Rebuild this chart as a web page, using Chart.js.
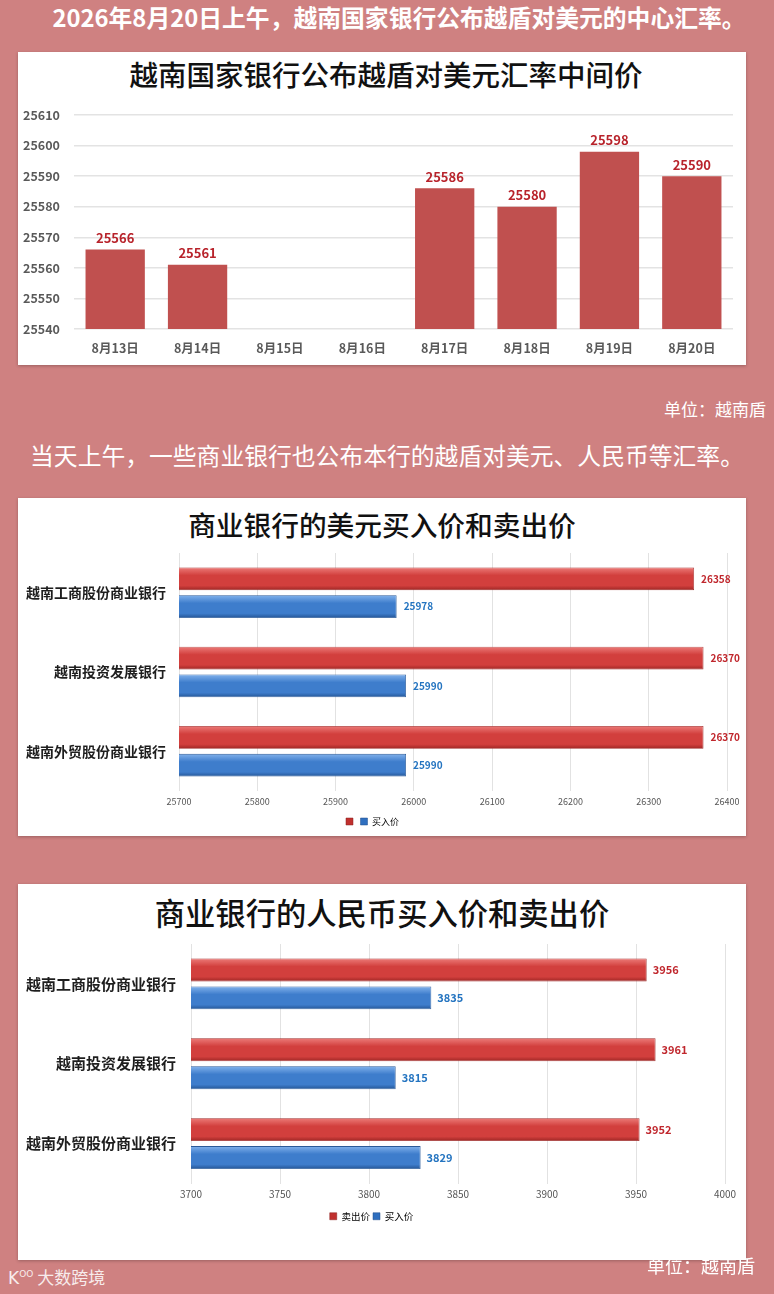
<!DOCTYPE html>
<html>
<head>
<meta charset="utf-8">
<script src="https://cdn.jsdelivr.net/npm/chart.js@4.4.1/dist/chart.umd.min.js"></script>
<style>
  html, body { margin:0; padding:0; }
  body { width:774px; height:1294px; background:#cf8181; position:relative; overflow:hidden;
         font-family:"Noto Sans CJK SC","Noto Sans",sans-serif; }
  .txt { position:absolute; color:#fff; white-space:nowrap; line-height:1; }
  .panel { position:absolute; left:18px; width:728px; background:#fff; box-shadow:0 1px 3px rgba(0,0,0,0.25); }
  .panel .title { position:absolute; left:0; width:100%; text-align:center; color:#111; font-weight:500; line-height:1; white-space:nowrap; transform:translateY(-50%); }
  .panel .cv { position:absolute; left:0; top:0; width:100%; height:100%; }
</style>
</head>
<body>
<div class="txt" style="left:0;width:774px;text-align:center;top:5px;font-size:23.8px;font-weight:700;padding-left:24px;box-sizing:border-box;">2026年8月20日上午，越南国家银行公布越盾对美元的中心汇率。</div>

<div class="panel" style="top:52px;height:313px;">
  <div class="title" style="top:22px;font-size:28.5px;padding-left:8px;box-sizing:border-box;">越南国家银行公布越盾对美元汇率中间价</div>
  <div class="cv"><canvas id="c1"></canvas></div>
</div>

<div class="txt" style="right:8px;top:400px;font-size:17px;">单位：越南盾</div>
<div class="txt" style="left:0;width:774px;text-align:center;top:443px;font-size:23.8px;">当天上午，一些商业银行也公布本行的越盾对美元、人民币等汇率。</div>

<div class="panel" style="top:498px;height:338px;">
  <div class="title" style="top:27px;font-size:27.7px;">商业银行的美元买入价和卖出价</div>
  <div class="cv"><canvas id="c2"></canvas></div>
</div>

<div class="panel" style="top:884px;height:376px;">
  <div class="title" style="top:28px;font-size:30.3px;">商业银行的人民币买入价和卖出价</div>
  <div class="cv"><canvas id="c3"></canvas></div>
</div>

<div class="txt" style="right:19px;top:1256px;font-size:18px;">单位：越南盾</div>
<div class="txt" style="left:8px;top:1268px;font-size:17px;opacity:0.85;"><span style="font-family:'DejaVu Sans';font-size:17px;">K</span><sup style="font-size:9px;font-family:'DejaVu Sans';">OO</sup> 大数跨境</div>

<script>
// ---------- data ----------
const dates = ['8月13日','8月14日','8月15日','8月16日','8月17日','8月18日','8月19日','8月20日'];
const centralRate = [25566, 25561, null, null, 25586, 25580, 25598, 25590];
const rateTicks = { min: 25540, max: 25610, step: 10 };

const banks = ['越南工商股份商业银行','越南投资发展银行','越南外贸股份商业银行'];
const usdSell = [26358, 26370, 26370];
const usdBuy  = [25978, 25990, 25990];
const usdTicks = { min: 25700, max: 26400, step: 100 };

const cnySell = [3956, 3961, 3952];
const cnyBuy  = [3835, 3815, 3829];
const cnyTicks = { min: 3700, max: 4000, step: 50 };

const usdLegend = ['', '买入价'];
const cnyLegend = ['卖出价', '买入价'];

// ---------- helpers ----------
const FONT = '"Noto Sans CJK SC","Noto Sans",sans-serif';
const plain = (v) => String(v);

const valueLabels = {
  id: 'valueLabels',
  afterDatasetsDraw(chart) {
    const ctx = chart.ctx;
    const horiz = chart.options.indexAxis === 'y';
    chart.data.datasets.forEach((ds, i) => {
      const meta = chart.getDatasetMeta(i);
      ctx.save();
      ctx.fillStyle = ds.labelColor;
      ctx.font = ds.labelFont;
      meta.data.forEach((el, j) => {
        const v = ds.data[j];
        if (v == null) return;
        if (horiz) {
          ctx.textAlign = 'left'; ctx.textBaseline = 'middle';
          ctx.fillText(String(v), el.x + ds.labelOffset, el.y);
        } else {
          ctx.textAlign = 'center'; ctx.textBaseline = 'bottom';
          ctx.fillText(String(v), el.x, el.y - ds.labelOffset);
        }
      });
      ctx.restore();
    });
  }
};

function barGradient(light, mid, dark, cp, bp, nSets) {
  return (c) => {
    const chart = c.chart;
    const ys = chart.scales && chart.scales.y;
    if (!ys || c.dataIndex === undefined || !isFinite(ys.height) || ys.height <= 0) return mid;
    const n = chart.data.labels.length;
    const cw = ys.height / n;
    const center = ys.getPixelForValue(c.dataIndex);
    const group = cw * cp, slot = group / nSets;
    const bc = center - group / 2 + slot * (c.datasetIndex + 0.5);
    const th = slot * bp;
    if (!isFinite(bc) || !isFinite(th)) return mid;
    const g = chart.ctx.createLinearGradient(0, bc - th / 2, 0, bc + th / 2);
    g.addColorStop(0, light);
    g.addColorStop(0.35, mid);
    g.addColorStop(0.8, mid);
    g.addColorStop(1, dark);
    return g;
  };
}

// ---------- chart 1 ----------
new Chart(document.getElementById('c1'), {
  type: 'bar',
  data: {
    labels: dates,
    datasets: [{
      data: centralRate,
      backgroundColor: '#c0504f',
      categoryPercentage: 1,
      barPercentage: 0.72,
      labelColor: '#b8232b',
      labelFont: 'bold 13px ' + FONT,
      labelOffset: 5
    }]
  },
  options: {
    responsive: true, maintainAspectRatio: false, animation: false,
    layout: { padding: { top: 63, right: 13, left: 0, bottom: 0 } },
    plugins: { legend: { display: false }, tooltip: { enabled: false } },
    scales: {
      x: {
        grid: { display: false, drawTicks: false },
        border: { display: false },
        ticks: { color: '#595959', font: { family: FONT, size: 12.5, weight: 'bold' }, padding: 12, maxRotation: 0 },
        afterFit(s) { s.height = 36; }
      },
      y: {
        min: rateTicks.min, max: rateTicks.max,
        grid: { color: '#e3e3e3', lineWidth: 1.5, drawTicks: false },
        border: { display: false },
        ticks: { stepSize: rateTicks.step, callback: plain, color: '#595959', font: { family: FONT, size: 12.5, weight: 'bold' }, padding: 14 },
        afterFit(s) { s.width = 56; }
      }
    }
  },
  plugins: [valueLabels]
});

// ---------- horizontal charts ----------
function hbar(id, labels, sell, buy, ticks, legendNames, opts) {
  const cp = 0.7, bp = 0.82;
  new Chart(document.getElementById(id), {
    type: 'bar',
    data: {
      labels: labels,
      datasets: [
        { label: legendNames[0], data: sell,
          backgroundColor: barGradient('#ec7b78', '#d23f3d', '#9d2624', cp, bp, 2),
          borderColor: '#9e2a28', borderWidth: 0.8,
          categoryPercentage: cp, barPercentage: bp,
          labelColor: '#c0272d', labelFont: 'bold ' + opts.labelSize + 'px ' + FONT, labelOffset: opts.labelOffset },
        { label: legendNames[1], data: buy,
          backgroundColor: barGradient('#82b2ec', '#3e7dcc', '#245595', cp, bp, 2),
          borderColor: '#2a5a98', borderWidth: 0.8,
          categoryPercentage: cp, barPercentage: bp,
          labelColor: '#2474c0', labelFont: 'bold ' + opts.labelSize + 'px ' + FONT, labelOffset: opts.labelOffset }
      ]
    },
    options: {
      indexAxis: 'y',
      responsive: true, maintainAspectRatio: false, animation: false,
      layout: { padding: { top: opts.top, right: opts.right, left: 0, bottom: opts.bottom } },
      plugins: {
        tooltip: { enabled: false },
        legend: {
          position: 'bottom',
          labels: {
            boxWidth: 7, boxHeight: 7, padding: opts.legendPad,
            color: '#555', font: { family: FONT, size: opts.legendSize },
            generateLabels(chart) {
              return chart.data.datasets.map((ds, i) => ({
                text: ds.label, fillStyle: i === 0 ? '#c0302e' : '#2f6fbf',
                strokeStyle: i === 0 ? '#8a2020' : '#204c8a', lineWidth: 0.5,
                datasetIndex: i, hidden: false
              }));
            }
          }
        }
      },
      scales: {
        x: {
          min: ticks.min, max: ticks.max,
          grid: { color: '#e2e2e2', lineWidth: 1, drawTicks: false },
          border: { display: false },
          ticks: { stepSize: ticks.step, callback: plain, color: '#555', font: { family: FONT, size: opts.tickSize }, padding: 5 },
          afterFit(s) { s.height = opts.xHeight; }
        },
        y: {
          grid: { display: false, drawTicks: false },
          border: { display: false },
          ticks: { color: '#1e1e1e', font: { family: FONT, size: opts.catSize, weight: 'bold' }, padding: opts.catPad },
          afterFit(s) { s.width = opts.left; }
        }
      }
    },
    plugins: [valueLabels]
  });
}

hbar('c2', banks, usdSell, usdBuy, usdTicks, usdLegend,
  { top: 55, right: 19, bottom: 0, left: 161, xHeight: 23, legendPad: 3, legendSize: 9,
    tickSize: 9, catSize: 14, catPad: 13, labelSize: 10, labelOffset: 7 });

hbar('c3', banks, cnySell, cnyBuy, cnyTicks, cnyLegend,
  { top: 60, right: 21, bottom: 29, left: 173, xHeight: 25, legendPad: 3, legendSize: 9.5,
    tickSize: 10, catSize: 15, catPad: 15, labelSize: 11, labelOffset: 6 });
</script>
</body>
</html>
